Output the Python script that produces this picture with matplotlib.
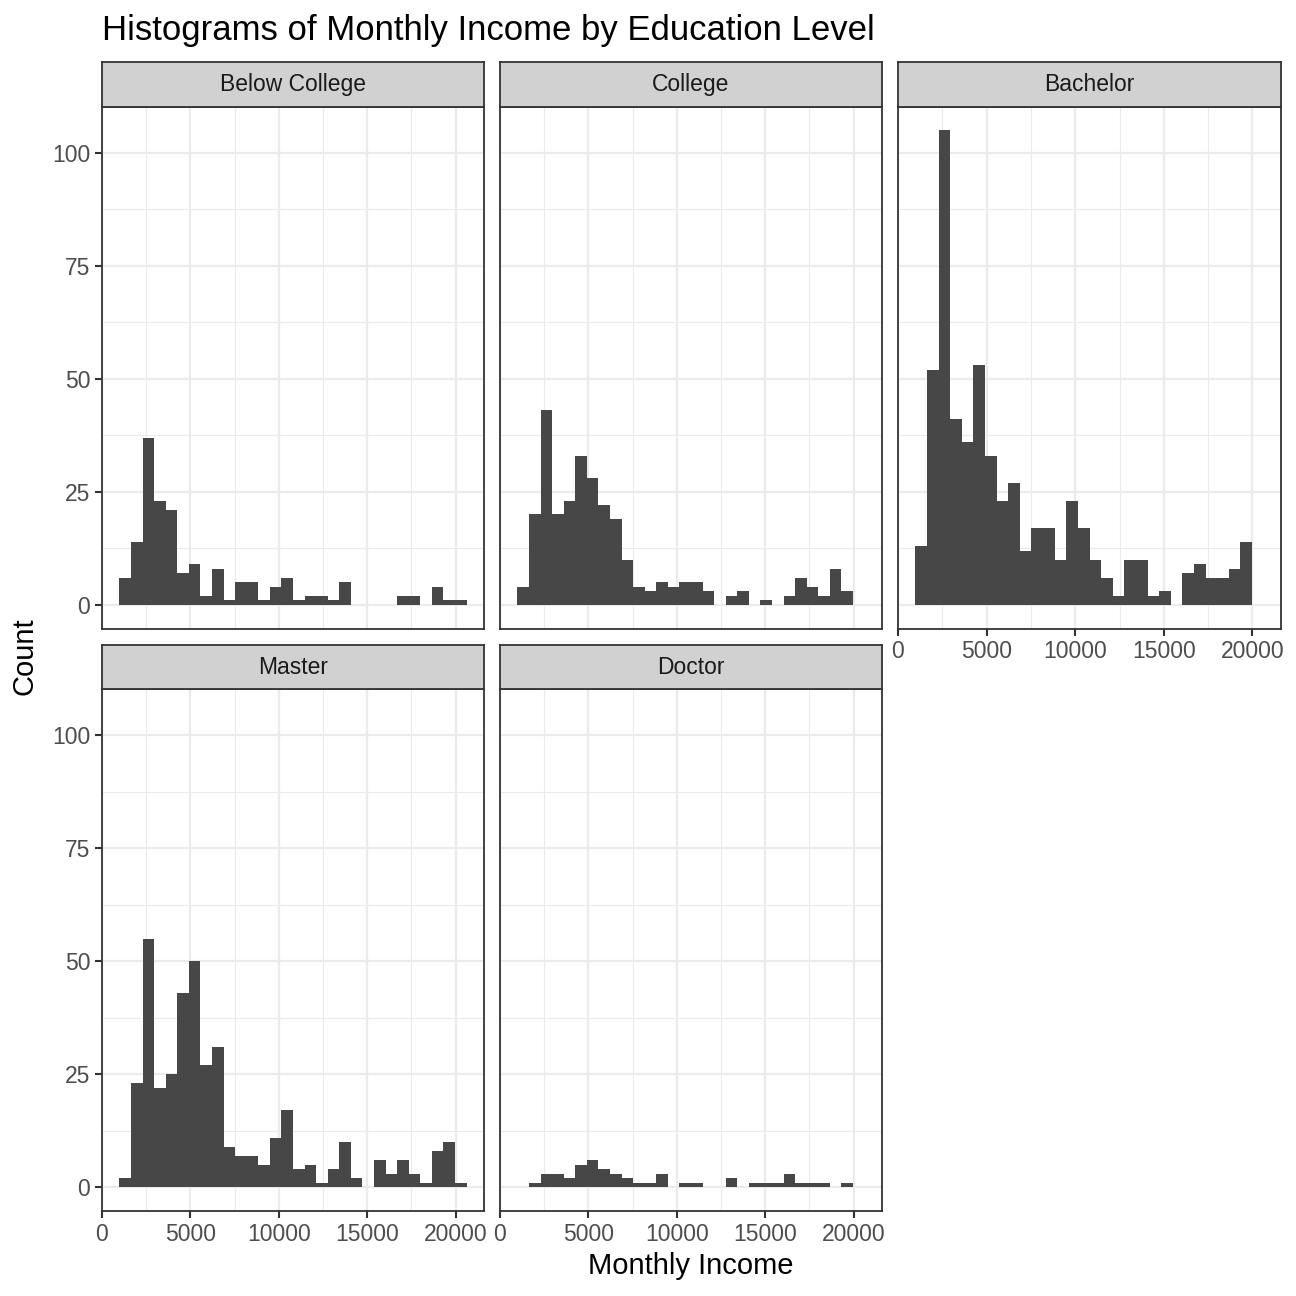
import numpy as np
import matplotlib
matplotlib.use("Agg")
import matplotlib.pyplot as plt

plt.rcParams["font.family"] = ["Liberation Sans", "DejaVu Sans"]

# --- data: counts per bin (30 bins shared across panels) ---
levels = ["Below College", "College", "Bachelor", "Master", "Doctor"]

below_college = [6, 14, 37, 23, 21, 7, 9, 2, 8, 1, 5, 5, 1, 4, 6,
                 1, 2, 2, 1, 5, 0, 0, 0, 0, 2, 2, 0, 4, 1, 1]
college = [4, 20, 43, 20, 23, 33, 28, 22, 19, 10, 4, 3, 5, 4, 5,
           5, 3, 0, 2, 3, 0, 1, 0, 2, 6, 4, 2, 8, 3, 0]
bachelor = [13, 52, 105, 41, 36, 53, 33, 23, 27, 12, 17, 17, 10, 23, 17,
            10, 6, 2, 10, 10, 2, 3, 0, 7, 9, 6, 6, 8, 14, 0]
master = [2, 23, 55, 22, 25, 43, 50, 27, 31, 9, 7, 7, 5, 11, 17,
          4, 5, 1, 4, 10, 2, 0, 6, 3, 6, 3, 1, 8, 10, 1]
doctor = [0, 1, 3, 3, 2, 5, 6, 4, 3, 2, 1, 1, 3, 0, 1,
          1, 0, 0, 2, 0, 1, 1, 1, 3, 1, 1, 1, 0, 1, 0]
counts = [below_college, college, bachelor, master, doctor]

# income range used for binning (bins=30, ggplot style)
income_min, income_max, n_bins = 1009, 19999, 30
x_ticks = [0, 5000, 10000, 15000, 20000]
x_minor = [2500, 7500, 12500, 17500]
y_ticks = [0, 25, 50, 75, 100]
y_minor = [12.5, 37.5, 62.5, 87.5]

binwidth = (income_max - income_min) / (n_bins - 1)
boundary = binwidth / 2
origin = boundary + np.floor((income_min - boundary) / binwidth) * binwidth
edges = origin + binwidth * np.arange(n_bins + 1)

xspan = edges[-1] - edges[0]
xlim = (edges[0] - 0.05 * xspan, edges[-1] + 0.05 * xspan)
ymax = max(max(c) for c in counts)
ylim = (-0.05 * ymax, ymax * 1.05)

# --- layout (pixels) ---
W = H = 1296
cols = [(102, 484), (500, 882), (898, 1281)]
rows = [(62, 106.5, 628.5), (645, 689, 1211)]  # strip top, plot top, plot bottom

bar_col = "#474747"
grid_col = "#EBEBEB"
edge_col = "#333333"
tick_col = "#4D4D4D"

fig = plt.figure(figsize=(W / 100, H / 100), dpi=100)

def px_axes(x0, y0, x1, y1):
    return fig.add_axes([x0 / W, 1 - y1 / H, (x1 - x0) / W, (y1 - y0) / H])

for k, (name, vals) in enumerate(zip(levels, counts)):
    r, c = divmod(k, 3)
    x0, x1 = cols[c]
    st, pt, pb = rows[r]

    ax = px_axes(x0, pt, x1, pb)
    ax.set_xlim(*xlim)
    ax.set_ylim(*ylim)
    for v in x_minor:
        ax.axvline(v, color=grid_col, lw=0.8, zorder=0)
    for v in y_minor:
        ax.axhline(v, color=grid_col, lw=0.8, zorder=0)
    for v in x_ticks:
        ax.axvline(v, color=grid_col, lw=1.6, zorder=0)
    for v in y_ticks:
        ax.axhline(v, color=grid_col, lw=1.6, zorder=0)

    ax.stairs(vals, edges, fill=True, baseline=0, color=bar_col,
              linewidth=0, zorder=2)

    for s in ax.spines.values():
        s.set_color(edge_col)
        s.set_linewidth(1.3)

    ax.set_xticks(x_ticks)
    ax.set_yticks(y_ticks)
    ax.tick_params(length=5, width=1.5, color=edge_col, labelsize=16.5,
                   labelcolor=tick_col, pad=3.5)
    show_x = (r == 1) or (k == 2)
    show_y = (c == 0)
    ax.tick_params(axis="x", bottom=show_x, labelbottom=show_x)
    ax.tick_params(axis="y", left=show_y, labelleft=show_y)

    sax = px_axes(x0, st, x1, pt)
    sax.set_facecolor("#D1D1D1")
    sax.set_xticks([])
    sax.set_yticks([])
    for s in sax.spines.values():
        s.set_color(edge_col)
        s.set_linewidth(1.3)
    sax.text(0.5, 0.5, name, ha="center", va="center", fontsize=16.5,
             color="#1A1A1A", transform=sax.transAxes)

fig.text(102 / W, 1 - 40 / H, "Histograms of Monthly Income by Education Level",
         fontsize=25, ha="left", va="baseline", color="black")
fig.text(691 / W, 1 - 1266 / H, "Monthly Income", fontsize=21,
         ha="center", va="center")
fig.text(24 / W, 1 - 656 / H, "Count", fontsize=21, rotation=90,
         ha="center", va="center")

fig.savefig("out.png", dpi=100, facecolor="white")
